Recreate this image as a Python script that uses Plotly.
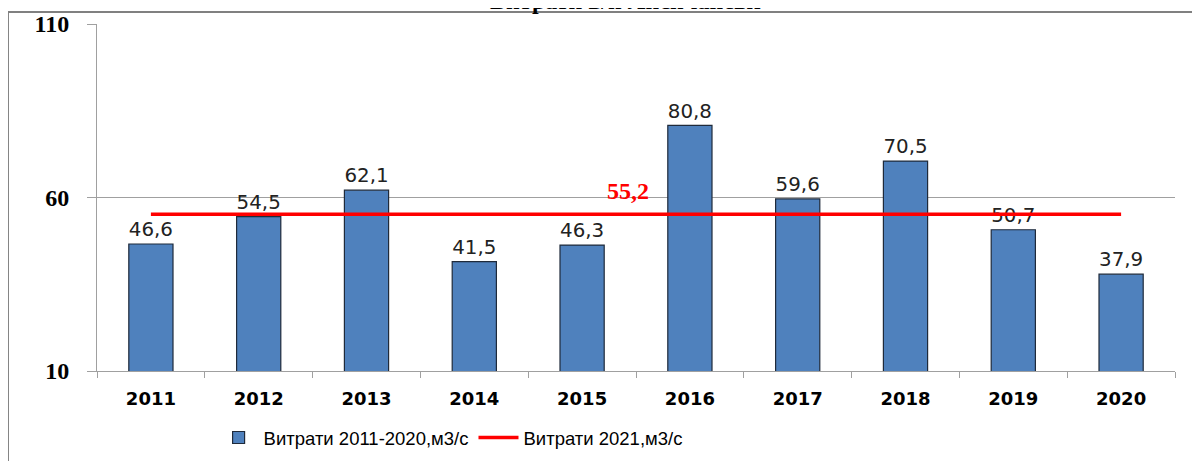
import plotly.graph_objects as go

years = ["2011", "2012", "2013", "2014", "2015", "2016", "2017", "2018", "2019", "2020"]
flow_2011_2020 = [46.6, 54.5, 62.1, 41.5, 46.3, 80.8, 59.6, 70.5, 50.7, 37.9]
flow_2021 = [55.2] * len(years)
bar_labels = [f"{v:.1f}".replace(".", ",") for v in flow_2011_2020]
title_text = "Витрати в/п Лисичанськ"
series1_name = "Витрати 2011-2020,м3/с"
series2_name = "Витрати 2021,м3/с"

fig = go.Figure()
fig.add_trace(go.Bar(
    x=years, y=flow_2011_2020, name=series1_name,
    marker=dict(color="#4F81BD", line=dict(color="#1F2A3A", width=1.2)),
    width=0.41, text=bar_labels, textposition="outside",
    textfont=dict(family="DejaVu Sans", size=21, color="#222222"),
    cliponaxis=False,
))
fig.add_trace(go.Scatter(
    x=years, y=flow_2021, name=series2_name, mode="lines",
    line=dict(color="#FF0000", width=3.5),
))

fig.add_annotation(
    x=4.43, y=flow_2021[0], xref="x", yref="y", yshift=23,
    text="<b>" + f"{flow_2021[0]:.1f}".replace(".", ",") + "</b>", showarrow=False,
    font=dict(family="Liberation Serif", size=24, color="#FF0000"),
)
fig.add_annotation(
    x=0.49, y=1.023, xref="paper", yref="paper", xanchor="center", yanchor="bottom",
    text="<b>" + title_text + "</b>", showarrow=False,
    font=dict(family="Liberation Serif", size=24, color="#000000"),
)
fig.add_shape(type="rect", xref="paper", yref="paper",
              x0=-0.0826, x1=1.2, y0=-0.5, y1=1.0346,
              line=dict(color="#808080", width=2), layer="below")

fig.update_layout(
    width=1200, height=461,
    margin=dict(l=89, r=33, t=16, b=98, autoexpand=False),
    paper_bgcolor="white", plot_bgcolor="white",
    bargap=0.59,
    showlegend=True,
    legend=dict(orientation="h", x=0.328, xanchor="center", y=-0.193, yanchor="middle",
                font=dict(family="Liberation Sans", size=18.5, color="#000000"),
                itemwidth=40, traceorder="normal"),
    xaxis=dict(
        type="category", showline=True, linecolor="#A0A0A0", linewidth=1,
        ticks="outside", tickson="boundaries", ticklen=6, tickcolor="#A0A0A0",
        tickfont=dict(family="DejaVu Sans", size=18, color="#000000", weight="bold"),
        ticklabelstandoff=11,
        showgrid=False,
    ),
    yaxis=dict(
        range=[10, 110], dtick=50, tick0=10, showline=True, linecolor="#A0A0A0",
        ticks="outside", ticklen=9, tickcolor="#A0A0A0",
        showgrid=True, gridcolor="#A0A0A0", gridwidth=1,
        tickfont=dict(family="Liberation Serif", size=24, color="#000000", weight="bold"),
        ticklabelstandoff=13,
        zeroline=False,
    ),
)
fig.write_html("out.html")
